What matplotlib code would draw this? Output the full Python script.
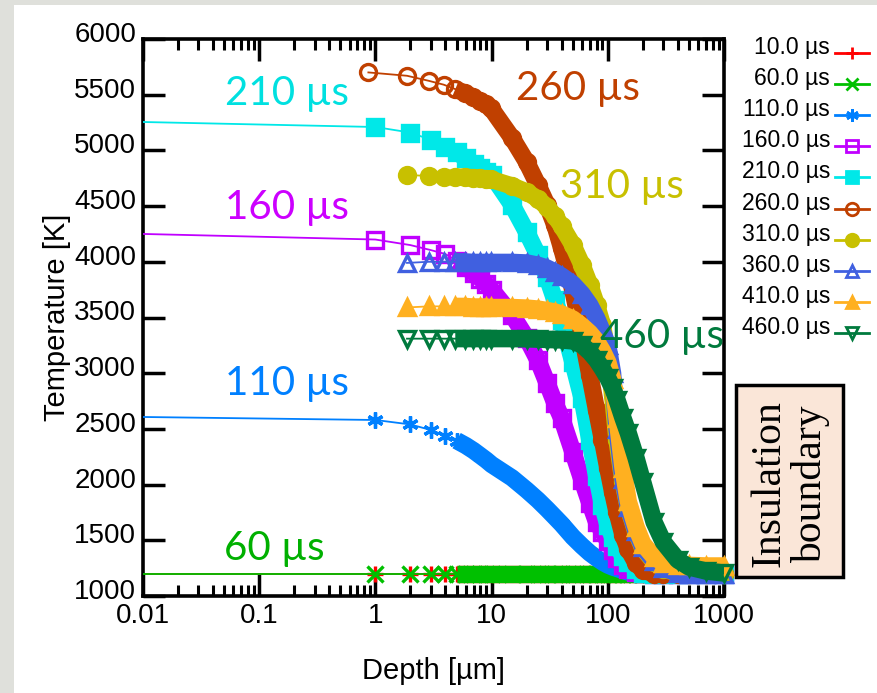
import matplotlib.pyplot as plt
import matplotlib.transforms as mtransforms
from matplotlib.lines import Line2D
from matplotlib.patches import Rectangle
from matplotlib.ticker import FixedLocator, LogLocator, NullFormatter

plt.rcParams['font.family'] = ['Liberation Sans', 'DejaVu Sans']

# depth grids (um)
depth_surface = [0.01, 1, 2, 3, 4, 5, 6, 7, 8, 9, 10]
depth_shifted = [0.87, 1.87, 2.87, 3.87, 4.87, 5.87, 6.87, 7.87, 8.87, 9.87]
depth_late = [1.87, 2.87, 3.87, 4.87, 5.87, 6.87, 7.87, 8.87, 9.87]
depth_tail = [15, 20, 25, 30, 35, 40, 50, 60, 70, 80, 90, 100,
              110, 120, 135, 150, 175, 200, 250, 300, 400, 500, 700, 1000]

# temperature profiles (K): near-surface points followed by the deep points
temp_10 = [1200, 1200, 1200, 1200, 1200, 1200, 1200, 1200, 1200, 1200, 1200,
           1200, 1200, 1200, 1200, 1200, 1200, 1200, 1200, 1200, 1200, 1200, 1200,
           1200, 1200, 1200, 1200, 1200, 1200, 1200, 1200, 1200, 1200, 1200, 1200]
temp_60 = [1200, 1200, 1200, 1200, 1200, 1200, 1200, 1200, 1200, 1200, 1200,
           1200, 1200, 1200, 1200, 1200, 1200, 1200, 1200, 1200, 1200, 1200, 1200,
           1200, 1200, 1200, 1200, 1200, 1200, 1200, 1200, 1200, 1200, 1200, 1200]
temp_110 = [2607, 2580, 2540, 2490, 2440, 2395, 2350, 2305, 2260, 2220, 2180,
            2060, 1952, 1862, 1781, 1709, 1646, 1530, 1449, 1386, 1341, 1305, 1278,
            1260, 1247, 1229, 1215, 1202, 1200, 1200, 1200, 1200, 1200, 1200, 1200]
temp_160 = [4250, 4200, 4150, 4105, 4070, 4010, 3950, 3900, 3850, 3800, 3750,
            3523, 3316, 3119, 2912, 2733, 2598, 2293, 2041, 1835, 1664, 1575, 1494,
            1413, 1341, 1278, 1242, 1215, 1202, 1200, 1200, 1200, 1200, 1200, 1200]
temp_210 = [5255, 5210, 5160, 5095, 5035, 4985, 4930, 4880, 4840, 4810, 4780,
            4510, 4268, 4061, 3864, 3657, 3478, 3100, 2777, 2400, 2080, 1820, 1640,
            1530, 1449, 1359, 1305, 1242, 1206, 1200, 1200, 1200, 1200, 1200, 1200]
temp_260 = [5700, 5670, 5625, 5590, 5550, 5515, 5480, 5445, 5415, 5380,
            5111, 4896, 4690, 4510, 4330, 4124, 3747, 3343, 2984, 2670, 2400, 2149,
            1934, 1754, 1548, 1422, 1296, 1233, 1200, 1200, 1200, 1200, 1200, 1200]
temp_310 = [4780, 4770, 4760, 4760, 4760, 4755, 4750, 4745, 4740,
            4681, 4627, 4564, 4492, 4411, 4322, 4151, 3971, 3792, 3612, 3433, 3150,
            2800, 2400, 2030, 1790, 1570, 1430, 1305, 1242, 1206, 1200, 1200, 1200]
temp_360 = [3990, 4000, 4000, 4000, 4000, 3995, 3995, 3995, 3995,
            3995, 3990, 3970, 3944, 3909, 3873, 3801, 3711, 3612, 3496, 3370, 3250,
            3000, 2500, 2050, 1800, 1580, 1440, 1314, 1251, 1206, 1200, 1200, 1200]
temp_410 = [3590, 3600, 3600, 3600, 3600, 3595, 3595, 3595, 3590,
            3590, 3585, 3576, 3563, 3550, 3532, 3487, 3424, 3361, 3289, 3199, 3100,
            2950, 2600, 2150, 1850, 1620, 1470, 1350, 1300, 1280, 1275, 1270, 1270]
temp_460 = [3310, 3310, 3310, 3310, 3310, 3310, 3310, 3310, 3310,
            3310, 3308, 3305, 3302, 3300, 3298, 3289, 3253, 3190, 3119, 3038, 2957,
            2867, 2760, 2598, 2463, 2239, 2023, 1664, 1485, 1323, 1260, 1224, 1206]

series_labels = ['10.0 µs', '60.0 µs', '110.0 µs', '160.0 µs', '210.0 µs',
                 '260.0 µs', '310.0 µs', '360.0 µs', '410.0 µs', '460.0 µs']
series_heads = [depth_surface, depth_surface, depth_surface, depth_surface, depth_surface,
                depth_shifted, depth_late, depth_late, depth_late, depth_late]
series_temps = [temp_10, temp_60, temp_110, temp_160, temp_210,
                temp_260, temp_310, temp_360, temp_410, temp_460]
series_colors = ['#ff0000', '#00c000', '#0080ff', '#c000ff', '#00e8e8',
                 '#c04000', '#c8c000', '#4060e0', '#ffb020', '#007a3d']
series_markers = ['+', 'x', (6, 2, 0), 's', 's', 'o', 'o', '^', '^', 'v']
series_filled = [True, True, True, False, True, False, True, False, True, False]

temp_ticks = [1000, 1500, 2000, 2500, 3000, 3500, 4000, 4500, 5000, 5500, 6000]
depth_ticks = [0.01, 0.1, 1, 10, 100, 1000]
depth_tick_labels = ['0.01', '0.1', '1', '10', '100', '1000']

# curve labels: text, depth, temperature, colour
curve_notes = [
    ('210 µs', 0.051, 5515, '#00e0e0'),
    ('160 µs', 0.051, 4490, '#cc00ff'),
    ('110 µs', 0.051, 2910, '#0080ff'),
    ('60 µs', 0.050, 1430, '#00b000'),
    ('260 µs', 16.3, 5560, '#c04000'),
    ('310 µs', 38.5, 4680, '#c8c000'),
    ('460 µs', 85.0, 3325, '#007a3d'),
]

W, H = 877, 693
fig = plt.figure(figsize=(W / 100, H / 100), dpi=100, facecolor='#dfe0db')
fig.patches.append(Rectangle((14 / W, 0), 1 - 14 / W, 1 - 5 / H, transform=fig.transFigure,
                             facecolor='white', edgecolor='none', zorder=-10))

ax = fig.add_axes([143 / W, 1 - 596 / H, (724 - 143) / W, (596 - 39) / H])
ax.set_xscale('log')

for i in range(len(series_labels)):
    d = series_heads[i] + depth_tail
    t = series_temps[i]
    c = series_colors[i]
    fc = c if series_filled[i] else 'none'
    start = 1 if d[0] < 0.1 else 0
    # thin connecting line
    ax.plot(d, t, color=c, lw=1.3, zorder=2 + i)
    # crowded markers merge into a solid band at larger depths
    k = next(j for j, v in enumerate(d) if v >= 4.8)
    ax.plot(d[k:], t[k:], color=c, lw=12.5, solid_capstyle='butt', solid_joinstyle='round',
            zorder=2 + i)
    ax.plot(d[start:], t[start:], ls='none', marker=series_markers[i], ms=11.5,
            mec=c, mfc=fc, mew=2.4, clip_on=False, zorder=2 + i)

ax.set_xlim(0.01, 1000)
ax.set_ylim(1000, 6000)
ax.xaxis.set_major_locator(FixedLocator(depth_ticks))
ax.set_xticklabels(depth_tick_labels)
ax.xaxis.set_minor_locator(LogLocator(base=10, subs=[2, 3, 4, 5, 6, 7, 8, 9], numticks=20))
ax.xaxis.set_minor_formatter(NullFormatter())
ax.yaxis.set_major_locator(FixedLocator(temp_ticks))

ax.tick_params(which='both', direction='in', top=True, right=True, colors='black')
ax.tick_params(which='major', length=16, width=2.5, labelsize=20, pad=5)
ax.tick_params(which='minor', length=8, width=2.2)
for sp in ax.spines.values():
    sp.set_linewidth(2.6)

lift = mtransforms.ScaledTranslation(0, 0.07, fig.dpi_scale_trans)
for lab in ax.get_yticklabels():
    lab.set_transform(lab.get_transform() + lift)

ax.set_xlabel('Depth [µm]', fontsize=21, labelpad=20)
ax.set_ylabel('Temperature [K]', fontsize=21, labelpad=2)

for txt, xd, yt, c in curve_notes:
    ax.text(xd, yt, txt, color=c, fontsize=29, family=['Lato', 'DejaVu Sans'],
            ha='left', va='center', zorder=20)

# legend, drawn by hand so the labels stay right aligned
for i, lab in enumerate(series_labels):
    yl = 1 - (53 + 31.1 * i) / H
    fig.text(830 / W, yl - 1 / H, lab, fontsize=16.5, ha='right', va='baseline')
    c = series_colors[i]
    fc = c if series_filled[i] else 'none'
    fig.add_artist(Line2D([835 / W, 852 / W, 869 / W], [yl, yl, yl], transform=fig.transFigure,
                          color=c, lw=2, marker=series_markers[i], markevery=[1], ms=9,
                          mec=c, mfc=fc, mew=2))

# insulation boundary box
fig.patches.append(Rectangle((736 / W, 1 - 577 / H), 107 / W, 192 / H, transform=fig.transFigure,
                             facecolor='#fae6d8', edgecolor='black', lw=2.5, zorder=5))
fig.text(790 / W, 1 - 484 / H, 'Insulation\nboundary', rotation=90, ha='center', va='center',
         ma='center', fontsize=30, family=['Liberation Serif'], linespacing=1.1, zorder=6)

fig.savefig('out.png', dpi=100, facecolor=fig.get_facecolor())
